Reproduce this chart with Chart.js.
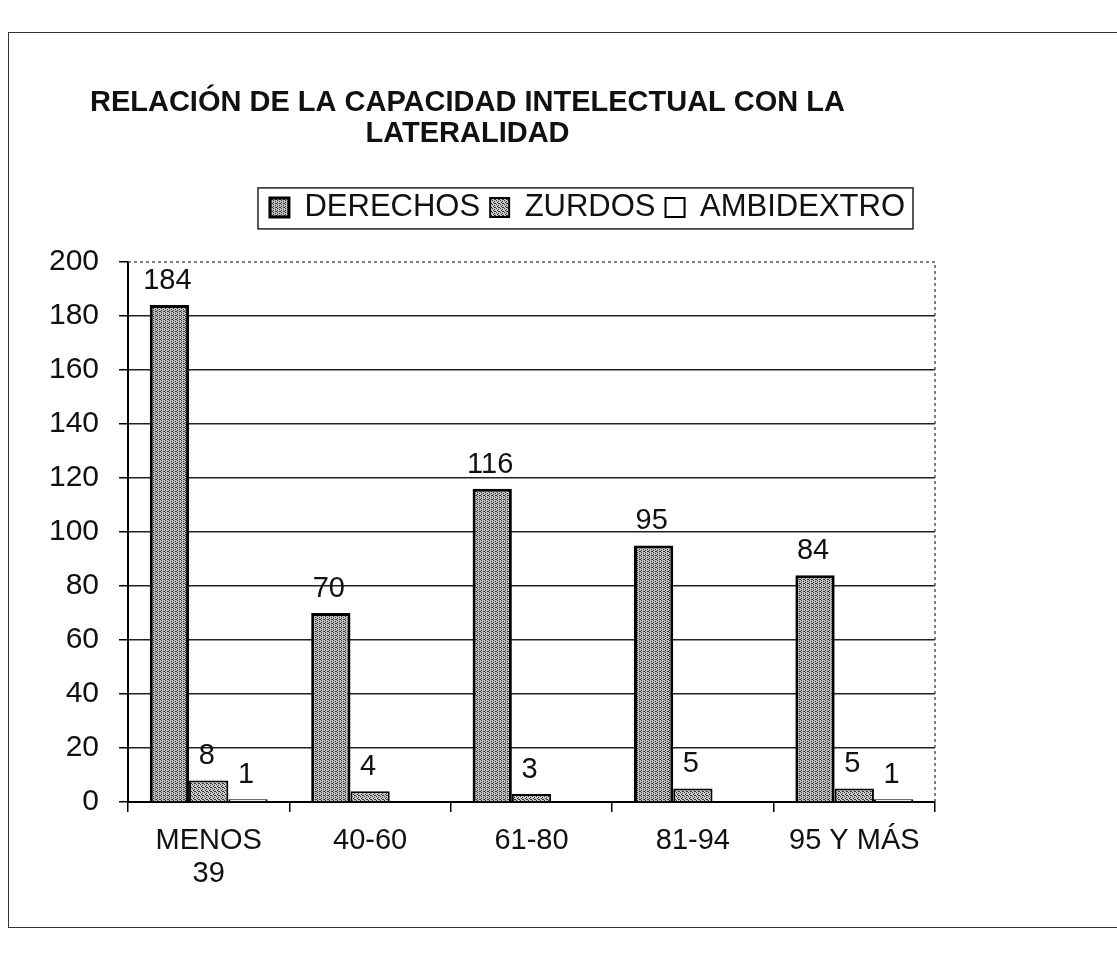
<!DOCTYPE html>
<html lang="es">
<head>
<meta charset="UTF-8">
<title>Relación de la capacidad intelectual con la lateralidad</title>
<script src="https://cdn.jsdelivr.net/npm/chart.js"></script>
<style>
  html, body { margin: 0; padding: 0; background: #fff; }
  #wrap { position: relative; width: 1117px; height: 953px; overflow: hidden; }
  #frame { position: absolute; left: 8px; top: 32px; width: 1130px; height: 894px; border: 1px solid #333; }
  canvas { position: absolute; left: 0; top: 0; }
</style>
</head>
<body>
<div id="wrap">
  <div id="frame"></div>
  <canvas id="chart" width="1117" height="953"></canvas>
</div>
<script>
// Datos
const categorias = [['MENOS', '39'], '40-60', '61-80', '81-94', '95 Y MÁS'];
const derechos = [184, 70, 116, 95, 84];
const zurdos = [8, 4, 3, 5, 5];
const ambidextro = [1, 0, 0, 0, 1];
const ticksY = [0, 20, 40, 60, 80, 100, 120, 140, 160, 180, 200];

const FONT = "'Liberation Sans', Arial, sans-serif";
const ctx = document.getElementById('chart').getContext('2d');

// Trama punteada gris para imitar el relleno escaneado
function trama(fondo, punto, puntos) {
  const c = document.createElement('canvas');
  c.width = 4; c.height = 4;
  const g = c.getContext('2d');
  g.fillStyle = fondo;
  g.fillRect(0, 0, 4, 4);
  g.fillStyle = punto;
  puntos.forEach(p => g.fillRect(p[0], p[1], 1, 1));
  return ctx.createPattern(c, 'repeat');
}
const tramaDer = trama('#c0c0c0', '#333', [[1, 0], [1, 2], [3, 1], [3, 3], [0, 3]]);
const tramaZur = trama('#c8c8c8', '#333', [[0, 0], [2, 1], [1, 2], [3, 3], [2, 3]]);

// Etiquetas de valor encima de cada barra
const etiquetas = {
  id: 'etiquetas',
  afterDatasetsDraw(chart) {
    const c = chart.ctx;
    c.save();
    c.font = '29px ' + FONT;
    c.fillStyle = '#111';
    c.textAlign = 'center';
    c.textBaseline = 'alphabetic';
    chart.data.datasets.forEach((ds, i) => {
      chart.getDatasetMeta(i).data.forEach((bar, j) => {
        const v = ds.data[j];
        if (!v) return;
        c.fillText(String(v), bar.x - 2, bar.y - 16);
      });
    });
    c.restore();
  }
};

// Borde punteado arriba y a la derecha del área de trazado, y caja de la leyenda
const marcos = {
  id: 'marcos',
  afterInit(chart) {
    const lg = chart.legend;
    const fit = lg.fit.bind(lg);
    lg.fit = function () { fit(); this.height += 29; };
  },
  afterLayout(chart) {
    chart.legend.right -= 20;
  },
  beforeDatasetsDraw(chart) {
    const a = chart.chartArea;
    const c = chart.ctx;
    c.save();
    c.strokeStyle = '#555';
    c.lineWidth = 1.5;
    c.setLineDash([3, 3]);
    c.beginPath();
    c.moveTo(a.left, a.top);
    c.lineTo(a.right, a.top);
    c.lineTo(a.right, a.bottom);
    c.stroke();
    c.restore();
  },
  afterDraw(chart) {
    const hb = chart.legend.legendHitBoxes;
    if (!hb || !hb.length) return;
    const x0 = hb[0].left - 12;
    const last = hb[hb.length - 1];
    const x1 = last.left + last.width + 8;
    const y0 = hb[0].top - 4;
    const y1 = hb[0].top + hb[0].height + 6;
    const c = chart.ctx;
    c.save();
    c.strokeStyle = '#222';
    c.lineWidth = 1.5;
    c.strokeRect(x0, y0, x1 - x0, y1 - y0);
    c.restore();
  }
};

new Chart(ctx, {
  type: 'bar',
  data: {
    labels: categorias,
    datasets: [
      { label: 'DERECHOS', data: derechos, backgroundColor: tramaDer, borderColor: '#000', borderWidth: 3 },
      { label: 'ZURDOS', data: zurdos, backgroundColor: tramaZur, borderColor: '#000', borderWidth: 2 },
      { label: 'AMBIDEXTRO', data: ambidextro, backgroundColor: '#fff', borderColor: '#000', borderWidth: 2 }
    ]
  },
  options: {
    responsive: false,
    animation: false,
    devicePixelRatio: 1,
    layout: { padding: { left: 0, right: 182, top: 0, bottom: 0 } },
    datasets: { bar: { categoryPercentage: 0.73, barPercentage: 1.0 } },
    plugins: {
      title: {
        display: true,
        text: ['RELACIÓN DE LA CAPACIDAD INTELECTUAL CON LA', 'LATERALIDAD'],
        color: '#111',
        font: { family: FONT, size: 29, weight: 'bold', lineHeight: 1.05 },
        padding: { top: 88, bottom: 33 }
      },
      legend: {
        display: true,
        position: 'top',
        align: 'end',
        labels: {
          color: '#111',
          font: { family: FONT, size: 31 },
          boxWidth: 19,
          boxHeight: 19,
          padding: 10
        }
      },
      tooltip: { enabled: false }
    },
    scales: {
      x: {
        grid: { drawOnChartArea: false, drawTicks: true, tickLength: 10, color: '#000', lineWidth: 1.5 },
        border: { display: true, color: '#000', width: 2 },
        ticks: { color: '#111', font: { family: FONT, size: 29, lineHeight: 1.15 }, padding: 12, maxRotation: 0, autoSkip: false },
        afterFit(scale) { scale.height = 151; }
      },
      y: {
        min: 0,
        max: 200,
        afterBuildTicks(scale) { scale.ticks = ticksY.map(v => ({ value: v })); },
        grid: {
          color: c => c.tick && c.tick.value === 200 ? 'rgba(0,0,0,0)' : '#222',
          lineWidth: 1.5,
          tickLength: 9,
          tickColor: '#000'
        },
        border: { display: true, color: '#000', width: 2 },
        ticks: { color: '#111', font: { family: FONT, size: 30 }, padding: 20 },
        afterFit(scale) { scale.width = 128; }
      }
    }
  },
  plugins: [etiquetas, marcos]
});
</script>
</body>
</html>
